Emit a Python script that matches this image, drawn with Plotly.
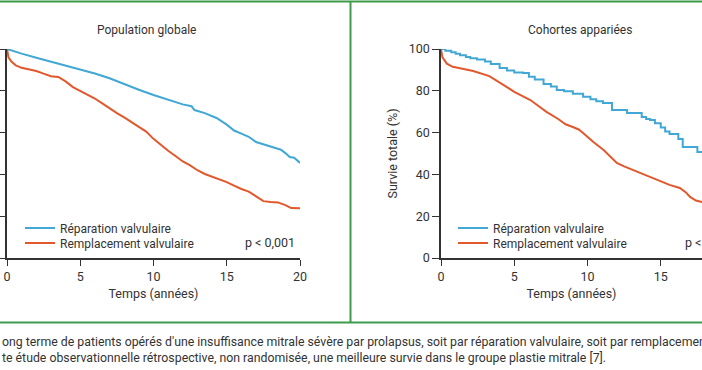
import plotly.graph_objects as go

# ---- data ----
t_glob_rep = [0, 0.5, 1, 2, 3, 4, 5, 6, 7, 8, 9, 10, 11, 12, 12.6, 12.8, 13.5, 14.3, 15, 15.5, 16, 16.5, 17, 17.5, 18.2, 18.7, 19, 19.3, 19.6, 20]
v_glob_rep = [100, 98.8, 97.8, 95.8, 94, 92.2, 90.3, 88.3, 86, 83.2, 80.5, 78, 75.7, 73.5, 72.6, 70.8, 69.3, 67, 63.8, 61, 59.5, 58, 55.5, 54.5, 52.8, 51.8, 50.2, 48.3, 48, 45.5]

t_glob_rem = [0, 0.1, 0.3, 0.6, 1, 1.5, 2, 2.5, 3, 3.5, 4, 4.5, 5, 5.5, 6, 6.5, 7, 7.5, 8, 8.5, 9, 9.5, 10, 10.5, 11, 11.5, 12, 12.5, 13, 13.5, 14, 14.5, 15, 15.5, 16, 16.5, 17, 17.5, 18, 18.5, 19, 19.4, 20]
v_glob_rem = [100, 96, 94, 92.2, 91, 90.3, 89.5, 88.2, 87, 86.6, 84.5, 81.8, 80, 78.4, 76.3, 74, 71.5, 69.3, 67.3, 65, 62.5, 60.5, 57, 54, 51.3, 48.8, 46.2, 44.3, 42, 40.2, 39, 37.7, 36.3, 34.6, 33, 31.8, 29.5, 27.2, 26.8, 26.6, 25.3, 23.9, 23.8]

t_coh_rep = [0, 0.3, 0.7, 1.0, 1.3, 1.7, 2.0, 2.45, 3.0, 3.4, 4.0, 4.5, 5.0, 5.6, 6.0, 6.4, 7.0, 7.5, 7.9, 8.4, 9.0, 9.7, 10.2, 10.6, 11.06, 11.67, 12.7, 13.7, 14.0, 14.27, 14.6, 15.0, 15.3, 15.6, 16.2, 16.5, 17.5, 18.2, 19.0, 20]
v_coh_rep = [100, 99.2, 98.4, 97.7, 97, 96.2, 95.6, 95, 94, 92.8, 90.9, 89.7, 88.8, 88.5, 86.7, 85.4, 83.3, 82.0, 80.4, 79.8, 78.6, 77.2, 75.9, 75.0, 74.2, 70.8, 69.4, 67.5, 66.5, 66, 64.5, 62.5, 60.5, 59.3, 56.9, 53.1, 50.7, 48.5, 46, 44]

t_coh_rem = [0, 0.1, 0.4, 0.8, 1.3, 2.2, 3.3, 3.8, 4.5, 5, 5.5, 6.1, 6.7, 7.2, 8, 8.5, 9, 9.4, 9.7, 10.4, 11.1, 11.6, 12, 12.5, 13.1, 14, 14.9, 15.6, 16.3, 16.7, 17, 17.4, 17.8, 18.5, 19.3, 20]
v_coh_rem = [100, 96, 93, 91.5, 90.8, 89.5, 87, 85, 81.8, 79.5, 77.8, 75.6, 72.5, 69.9, 66.5, 64, 62.7, 61.5, 59.8, 55.5, 51.7, 48.5, 45.5, 43.8, 42.1, 39.7, 37.3, 35, 33.5, 31.5, 29.2, 27.5, 26.8, 26.3, 24.5, 24]

x_ticks = [0, 5, 10, 15, 20]
y_ticks = [0, 20, 40, 60, 80, 100]
series_names = ["Réparation valvulaire", "Remplacement valvulaire"]
panel_titles = ["Population globale", "Cohortes appariées"]
p_value = "p < 0,001"
caption_lines = [
    "ong terme de patients opérés d'une insuffisance mitrale sévère par prolapsus, soit par réparation valvulaire, soit par remplacement valvulaire.",
    "te étude observationnelle rétrospective, non randomisée, une meilleure survie dans le groupe plastie mitrale [7].",
]

BLUE = "#41a7d5"
ORANGE = "#e0582b"
GREEN = "#3f9b4c"
AX = "#333333"
FONT = "Roboto"
W, H = 702, 370

def px(x):
    return x / W

def py(y):
    return 1 - y / H

fig = go.Figure()

fig.add_trace(go.Scatter(x=t_glob_rep, y=v_glob_rep, mode="lines", name=series_names[0],
                         line=dict(color=BLUE, width=2), xaxis="x", yaxis="y", legend="legend"))
fig.add_trace(go.Scatter(x=t_glob_rem, y=v_glob_rem, mode="lines", name=series_names[1],
                         line=dict(color=ORANGE, width=2), xaxis="x", yaxis="y", legend="legend2"))
fig.add_trace(go.Scatter(x=t_coh_rep, y=v_coh_rep, mode="lines", name=series_names[0],
                         line=dict(color=BLUE, width=2, shape="hv"), xaxis="x2", yaxis="y2", legend="legend3"))
fig.add_trace(go.Scatter(x=t_coh_rem, y=v_coh_rem, mode="lines", name=series_names[1],
                         line=dict(color=ORANGE, width=2), xaxis="x2", yaxis="y2", legend="legend4"))

ydom = [py(258), py(49)]
common_x = dict(showline=True, linecolor=AX, linewidth=1.5, ticks="outside", ticklen=6, tickwidth=1.2,
                tickcolor=AX, tickvals=x_ticks, showgrid=False, zeroline=False, automargin=False,
                tickfont=dict(family=FONT, size=12.5, color=AX),
                title=dict(text="Temps (années)", font=dict(family=FONT, size=12.5, color=AX), standoff=6))
common_y = dict(showline=True, linecolor=AX, linewidth=1.5, ticks="outside", ticklen=7, tickwidth=1.2,
                tickcolor=AX, tickvals=y_ticks, showgrid=False, zeroline=False, automargin=False,
                range=[0, 100], domain=ydom,
                tickfont=dict(family=FONT, size=12.5, color=AX))

x1_start = 7
x2_start = 441
unit = (300 - 7) / 20.0
x2_end_val = (W - x2_start) / unit

def leg(x, y):
    return dict(x=px(x), y=py(y), xanchor="left", yanchor="middle", bgcolor="rgba(0,0,0,0)",
                font=dict(family=FONT, size=12, color=AX), borderwidth=0)

fig.update_layout(
    width=W, height=H,
    margin=dict(l=0, r=0, t=0, b=0),
    paper_bgcolor="white", plot_bgcolor="white",
    font=dict(family=FONT, color=AX),
    xaxis=dict(common_x, domain=[px(x1_start), px(300)], range=[0, 20], anchor="y"),
    yaxis=dict(common_y, anchor="x", showticklabels=False),
    xaxis2=dict(common_x, domain=[px(x2_start), 1], range=[0, x2_end_val], anchor="y2"),
    yaxis2=dict(common_y, anchor="x2",
                title=dict(text="Survie totale (%)", font=dict(family=FONT, size=12.5, color=AX), standoff=8)),
    legend=leg(20, 228),
    legend2=leg(20, 243),
    legend3=leg(453, 228),
    legend4=leg(453, 243),
    showlegend=True,
)

annotations = [
    dict(text=panel_titles[0], x=px(146), y=py(30), xref="paper", yref="paper", showarrow=False,
         font=dict(family=FONT, size=12, color=AX), xanchor="center", yanchor="middle"),
    dict(text=panel_titles[1], x=px(580), y=py(30), xref="paper", yref="paper", showarrow=False,
         font=dict(family=FONT, size=12, color=AX), xanchor="center", yanchor="middle"),
    dict(text=p_value, x=px(297), y=py(243), xref="paper", yref="paper", showarrow=False,
         font=dict(family=FONT, size=12.5, color=AX), xanchor="right", yanchor="middle"),
    dict(text=p_value, x=px(683), y=py(243), xref="paper", yref="paper", showarrow=False,
         font=dict(family=FONT, size=12.5, color=AX), xanchor="left", yanchor="middle"),
    dict(text="<br>".join(caption_lines), x=px(0), y=py(349.5), xref="paper", yref="paper", showarrow=False,
         font=dict(family=FONT, size=12.3, color=AX), xanchor="left", yanchor="middle", align="left"),
]
fig.update_layout(annotations=annotations)

shapes = [
    dict(type="line", xref="paper", yref="paper", x0=0, x1=1, y0=py(1.5), y1=py(1.5),
         line=dict(color=GREEN, width=2)),
    dict(type="line", xref="paper", yref="paper", x0=0, x1=1, y0=py(322.5), y1=py(322.5),
         line=dict(color=GREEN, width=2)),
    dict(type="line", xref="paper", yref="paper", x0=px(350.5), x1=px(350.5), y0=py(1.5), y1=py(322.5),
         line=dict(color=GREEN, width=2)),
]
fig.update_layout(shapes=shapes)

fig.write_html("out.html", config={"displayModeBar": False},
               post_script="document.body.style.margin='0px';document.body.style.overflow='hidden';")
